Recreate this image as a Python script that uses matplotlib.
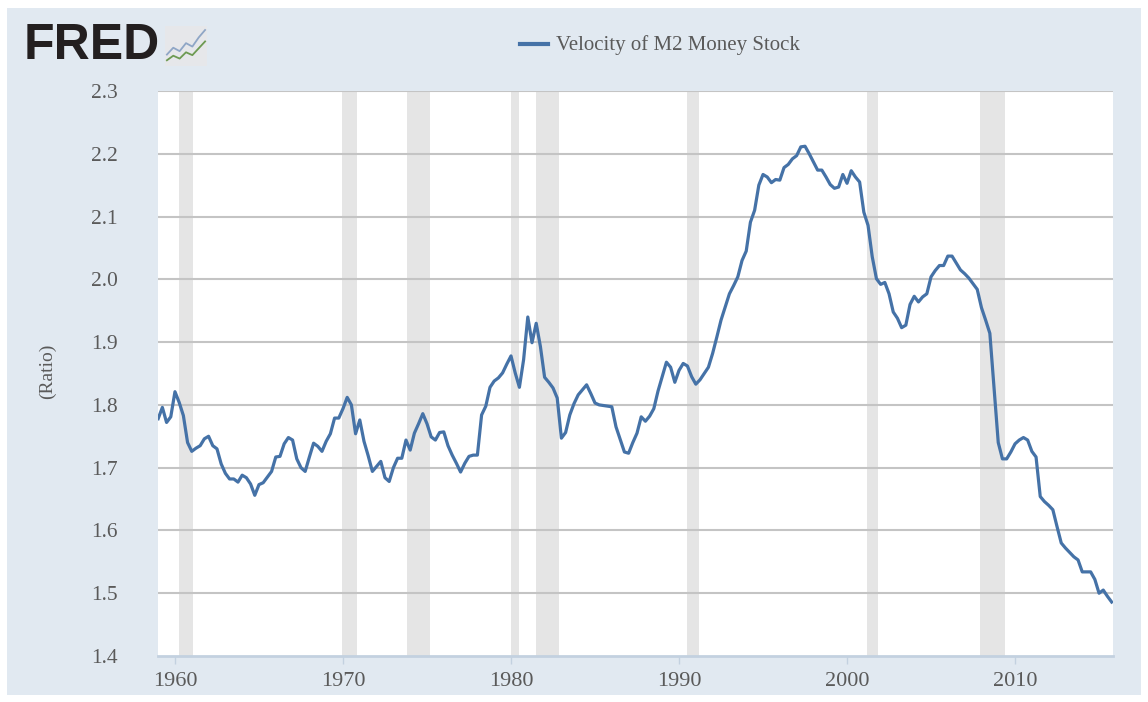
#! usr/bin/env python3
# Velocity of M2 Money Stock (FRED style), quarterly 1959Q1 - 2015Q4
import matplotlib
matplotlib.use('Agg')
import matplotlib.pyplot as plt
import numpy as np
from matplotlib.patches import Rectangle

# quarterly values, one row per year (Q1..Q4)
m2v_1959_1970 = [1.778, 1.796, 1.772, 1.781,
                 1.821, 1.804, 1.783, 1.740,
                 1.726, 1.731, 1.735, 1.746,
                 1.750, 1.735, 1.730, 1.706,
                 1.691, 1.682, 1.682, 1.677,
                 1.688, 1.684, 1.674, 1.656,
                 1.673, 1.676, 1.685, 1.694,
                 1.717, 1.718, 1.738, 1.748,
                 1.744, 1.714, 1.700, 1.694,
                 1.717, 1.739, 1.734, 1.726,
                 1.742, 1.754, 1.779, 1.779,
                 1.794, 1.812, 1.800, 1.754]
m2v_1971_1982 = [1.776, 1.742, 1.719, 1.694,
                 1.702, 1.710, 1.684, 1.678,
                 1.700, 1.715, 1.715, 1.744,
                 1.728, 1.755, 1.770, 1.786,
                 1.770, 1.749, 1.744, 1.756,
                 1.757, 1.735, 1.720, 1.707,
                 1.693, 1.707, 1.718, 1.720,
                 1.720, 1.784, 1.798, 1.828,
                 1.838, 1.843, 1.851, 1.865,
                 1.878, 1.851, 1.828, 1.872,
                 1.940, 1.899, 1.930, 1.893,
                 1.844, 1.836, 1.827, 1.811]
m2v_1983_1994 = [1.747, 1.756, 1.784, 1.802,
                 1.816, 1.824, 1.832, 1.818,
                 1.803, 1.800, 1.799, 1.798,
                 1.797, 1.765, 1.745, 1.725,
                 1.723, 1.740, 1.755, 1.781,
                 1.774, 1.782, 1.794, 1.822,
                 1.845, 1.868, 1.860, 1.836,
                 1.855, 1.866, 1.862, 1.845,
                 1.833, 1.840, 1.850, 1.860,
                 1.882, 1.908, 1.935, 1.956,
                 1.977, 1.990, 2.004, 2.030,
                 2.045, 2.091, 2.110, 2.150]
m2v_1995_2006 = [2.167, 2.163, 2.154, 2.159,
                 2.158, 2.178, 2.183, 2.192,
                 2.197, 2.211, 2.212, 2.200,
                 2.187, 2.174, 2.174, 2.163,
                 2.151, 2.145, 2.147, 2.167,
                 2.153, 2.173, 2.163, 2.155,
                 2.107, 2.086, 2.036, 2.001,
                 1.992, 1.995, 1.977, 1.948,
                 1.938, 1.923, 1.927, 1.960,
                 1.973, 1.964, 1.972, 1.977,
                 2.004, 2.014, 2.022, 2.022,
                 2.037, 2.037, 2.026, 2.015]
m2v_2007_2015 = [2.009, 2.002, 1.993, 1.984,
                 1.955, 1.935, 1.914, 1.826,
                 1.740, 1.714, 1.714, 1.725,
                 1.738, 1.744, 1.748, 1.744,
                 1.726, 1.717, 1.654, 1.646,
                 1.640, 1.633, 1.606, 1.580,
                 1.572, 1.565, 1.558, 1.553,
                 1.534, 1.534, 1.534, 1.522,
                 1.500, 1.505, 1.495, 1.486]

velocity = m2v_1959_1970 + m2v_1971_1982 + m2v_1983_1994 + m2v_1995_2006 + m2v_2007_2015
quarters = 1959 + 0.25 * np.arange(len(velocity))

# NBER recessions (start, end) in decimal years
recessions = [(1960.25, 1961.08), (1969.92, 1970.83), (1973.83, 1975.17),
              (1980.0, 1980.5), (1981.5, 1982.83), (1990.5, 1991.17),
              (2001.17, 2001.83), (2007.92, 2009.42)]

y_ticks = [1.4, 1.5, 1.6, 1.7, 1.8, 1.9, 2.0, 2.1, 2.2, 2.3]
x_ticks = [1960, 1970, 1980, 1990, 2000, 2010]

panel = '#e1e9f1'
line_col = '#4572a7'
txt_col = '#5a5a5a'
serif = ['Liberation Serif', 'DejaVu Serif']

fig = plt.figure(figsize=(11.48, 7.02), dpi=100)
fig.patch.set_facecolor('white')
bg = Rectangle((7 / 1148, 1 - 695 / 702), 1134 / 1148, 687 / 702,
               transform=fig.transFigure, facecolor=panel,
               edgecolor='none', zorder=-10)
fig.patches.append(bg)

ax = fig.add_axes([158 / 1148, 1 - 656 / 702, 955 / 1148, 565 / 702])
ax.set_facecolor('white')

for (start, end) in recessions:
    ax.axvspan(start, end, color='#e5e5e5', lw=0, zorder=1)

for yv in y_ticks[1:]:
    ax.axhline(yv, color='#c4c4c4', lw=1.5, zorder=2)

ax.plot(quarters, velocity, color=line_col, lw=2.3, zorder=3,
        solid_joinstyle='round', label='Velocity of M2 Money Stock')

ax.set_xlim(1958.99, 2015.83)
ax.set_ylim(1.4, 2.3)
ax.set_yticks(y_ticks)
ax.set_yticklabels(['{:.1f}'.format(v) for v in y_ticks], family=serif,
                   fontsize=15.5, color=txt_col)
ax.set_xticks(x_ticks)
ax.set_xticklabels([str(v) for v in x_ticks], family=serif, fontsize=16,
                   color=txt_col)
ax.tick_params(axis='y', length=0, pad=29)
ax.tick_params(axis='x', length=5.5, width=1, color='#c3d1e0', pad=6)
for side in ['top', 'right', 'left']:
    ax.spines[side].set_visible(False)
ax.spines['bottom'].set_color('#c3d1e0')
ax.spines['bottom'].set_linewidth(2)

fig.text(47 / 1148, 1 - 371 / 702, '(Ratio)', rotation=90, ha='center',
         va='center', family=serif, fontsize=14, color=txt_col)

# legend at top
fig.lines.append(plt.Line2D([520 / 1148, 548 / 1148], [1 - 44 / 702, 1 - 44 / 702],
                            transform=fig.transFigure, color=line_col, lw=3))
fig.text(556 / 1148, 1 - 45 / 702, 'Velocity of M2 Money Stock', ha='left',
         va='center', family=serif, fontsize=15, color=txt_col)

# FRED logo
fig.text(24 / 1148, 1 - 46 / 702, 'FRED', ha='left', va='center',
         family=['Liberation Sans', 'DejaVu Sans'], fontweight='bold',
         fontsize=36, color='#231f20')
logo = fig.add_axes([165 / 1148, 1 - 66 / 702, 42 / 1148, 40 / 702])
logo.set_facecolor('#e6e7ea')
logo_x = [0, 1, 2, 3, 4, 5, 6]
logo_blue = [2.0, 3.2, 2.6, 4.0, 3.4, 5.0, 6.3]
logo_green = [1.0, 1.8, 1.3, 2.4, 1.9, 3.1, 4.3]
logo.plot(logo_x, logo_blue, color='#8fa6c6', lw=1.3)
logo.plot(logo_x, logo_green, color='#6d9a52', lw=1.3)
logo.set_xlim(-0.3, 6.3)
logo.set_ylim(0, 7)
logo.set_xticks([])
logo.set_yticks([])
for side in logo.spines:
    logo.spines[side].set_visible(False)

fig.savefig('out.png', dpi=100, facecolor=fig.get_facecolor())
